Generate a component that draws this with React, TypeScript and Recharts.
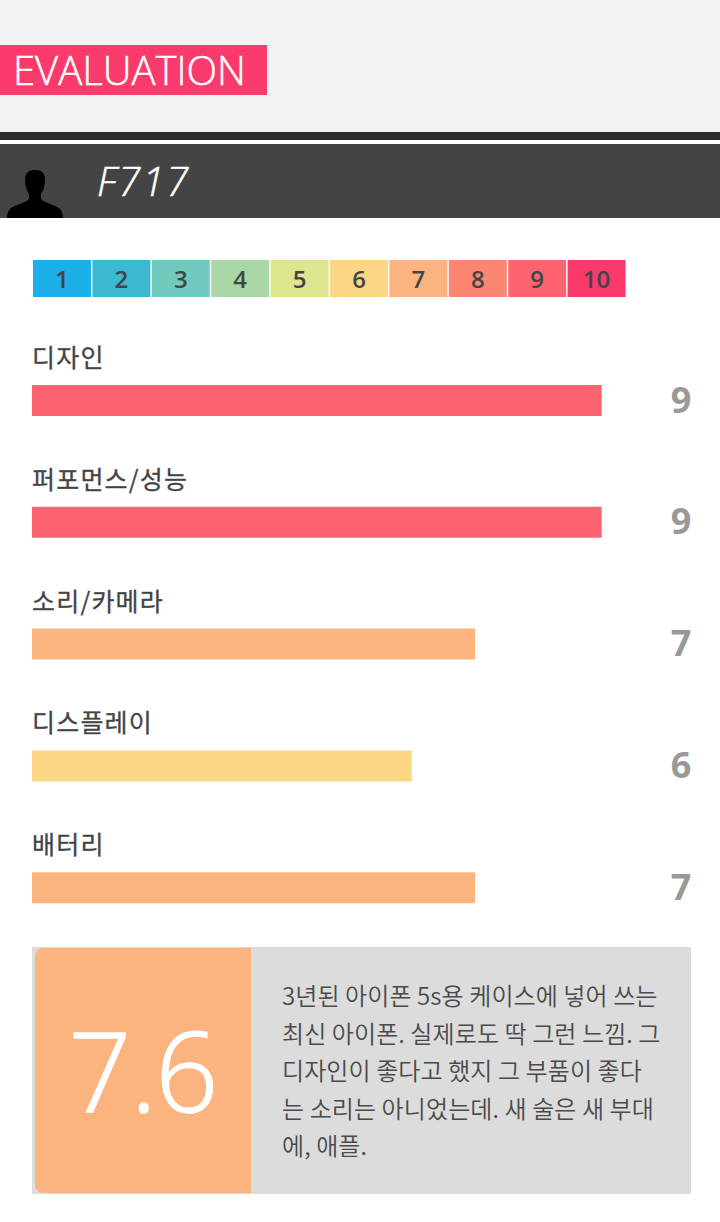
import { Bar, BarChart, Cell, LabelList, XAxis, YAxis } from "recharts";

const categories = ["디자인", "퍼포먼스/성능", "소리/카메라", "디스플레이", "배터리"];
const scores = [9, 9, 7, 6, 7];
const scaleLabels = ["1", "2", "3", "4", "5", "6", "7", "8", "9", "10"];
const scaleColors = ["#1bb0e8", "#3bb9d3", "#70cabd", "#a9d8a6", "#dde58f", "#fdd685", "#fbb37f", "#fc8671", "#fc6472", "#fb3a6c"];
const reviewLines = [
  "3년된 아이폰 5s용 케이스에 넣어 쓰는",
  "최신 아이폰. 실제로도 딱 그런 느낌. 그",
  "디자인이 좋다고 했지 그 부품이 좋다",
  "는 소리는 아니었는데. 새 술은 새 부대",
  "에, 애플.",
];

const latin = "'Open Sans', 'Noto Sans CJK KR', sans-serif";
const korean = "'Noto Sans CJK KR', sans-serif";

const rows = categories.map((name, i) => ({ name, score: scores[i] }));
const scaleRows = scaleLabels.map((label) => ({ label, size: 1 }));

function scoreColor(score: number) {
  return scaleColors[score - 1];
}

function CategoryLabel({ x, y, value }: any) {
  return (
    <text x={x} y={y - 18} fill="#444" fontFamily={korean} fontSize={25} fontWeight={400} letterSpacing={1.2} stroke="#444" strokeWidth={0.3}>
      {value}
    </text>
  );
}

function ScoreLabel({ y, height, value }: any) {
  return (
    <text x={681} y={y + height / 2 + 12} textAnchor="middle" fill="#999" fontFamily={latin} fontSize={36} fontWeight={700}>
      {value}
    </text>
  );
}

function ScaleLabel({ x, y, width, height, value }: any) {
  return (
    <text x={x + width / 2} y={y + height / 2 + 9} textAnchor="middle" fill="#444" fontFamily={latin} fontSize={24} fontWeight={600}>
      {value}
    </text>
  );
}

export default function App() {
  return (
    <div style={{ position: "absolute", left: 0, top: 0, width: 720, height: 1222, background: "#fff", overflow: "hidden" }}>
      <div style={{ position: "absolute", left: 0, top: 0, width: 720, height: 132, background: "#f2f2f2" }} />
      <div
        style={{
          position: "absolute",
          left: 0,
          top: 45,
          width: 267,
          height: 50,
          background: "#fb3a6c",
          color: "#fff",
          fontFamily: latin,
          fontSize: 40,
          fontWeight: 300,
          WebkitTextStroke: "0.5px #fff",
          lineHeight: "50px",
          paddingLeft: 13,
          boxSizing: "border-box",
          whiteSpace: "nowrap",
        }}
      >
        EVALUATION
      </div>
      <div style={{ position: "absolute", left: 0, top: 132, width: 720, height: 8, background: "#2e2e2e" }} />
      <div style={{ position: "absolute", left: 0, top: 144, width: 720, height: 74, background: "#444" }}>
        <svg width={70} height={74} style={{ position: "absolute", left: 0, top: 0, filter: "blur(0.7px)" }}>
          <path
            d="M34 26c-6 0-9 4-9 10 0 6 2 11 4 14v5c-3 4-15 6-19 10-2 2-3 6-3 9h56c0-3-1-7-3-9-4-4-16-6-19-10v-5c2-3 4-8 4-14 0-6-3-10-9-10z"
            fill="#000"
          />
        </svg>
        <div
          style={{
            position: "absolute",
            left: 97,
            top: 10,
            color: "#fff",
            fontFamily: latin,
            fontStyle: "italic",
            fontWeight: 300,
            WebkitTextStroke: "0.5px #fff",
            fontSize: 40,
            letterSpacing: 2,
            lineHeight: "54px",
          }}
        >
          F717
        </div>
      </div>

      <div style={{ position: "absolute", left: 31.5, top: 260 }}>
        <BarChart width={594} height={37} data={scaleRows} margin={{ top: 0, right: 0, bottom: 0, left: 0 }}>
          <XAxis dataKey="label" hide />
          <YAxis type="number" domain={[0, 1]} hide />
          <Bar dataKey="size" barSize={58} isAnimationActive={false}>
            {scaleRows.map((r, i) => (
              <Cell key={r.label} fill={scaleColors[i]} />
            ))}
            <LabelList dataKey="label" content={ScaleLabel} />
          </Bar>
        </BarChart>
      </div>

      <div style={{ position: "absolute", left: 0, top: 320 }}>
        <BarChart width={720} height={629} data={rows} layout="vertical" margin={{ top: 20, right: 55, bottom: 0, left: 32 }}>
          <XAxis type="number" domain={[0, 10]} hide />
          <YAxis type="category" dataKey="name" hide />
          <Bar dataKey="score" barSize={31} isAnimationActive={false}>
            {rows.map((r) => (
              <Cell key={r.name} fill={scoreColor(r.score)} />
            ))}
            <LabelList dataKey="name" content={CategoryLabel} />
            <LabelList dataKey="score" content={ScoreLabel} />
          </Bar>
        </BarChart>
      </div>

      <div style={{ position: "absolute", left: 32, top: 947, width: 659, height: 247, background: "#dcdcdc" }} />
      <div
        style={{
          position: "absolute",
          left: 35,
          top: 948,
          width: 216,
          height: 245,
          background: "#fbb37f",
          borderRadius: "8px 0 0 8px",
          color: "#fff",
          fontFamily: latin,
          fontSize: 110,
          fontWeight: 300,
          WebkitTextStroke: "1.5px #fff",
          letterSpacing: -1,
          lineHeight: "243px",
          textAlign: "center",
        }}
      >
        7.6
      </div>
      <div
        style={{
          position: "absolute",
          left: 282,
          top: 976,
          color: "#4a4a4a",
          fontFamily: korean,
          fontSize: 24,
          fontWeight: 350,
          letterSpacing: 0.1,
          lineHeight: "37.5px",
          whiteSpace: "nowrap",
        }}
      >
        {reviewLines.map((line) => (
          <div key={line}>{line}</div>
        ))}
      </div>
    </div>
  );
}
